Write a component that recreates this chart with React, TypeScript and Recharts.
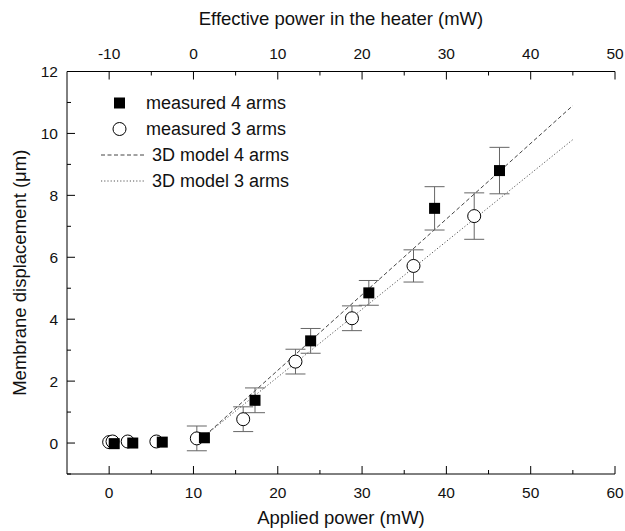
import React from 'react'
import { ComposedChart, Scatter, Line, XAxis, YAxis, ErrorBar } from 'recharts'

const FONT = '"Liberation Sans", Arial, Helvetica, sans-serif'

// measured, 4 arms
const power4 = [0.6, 2.8, 6.3, 11.3, 17.3, 23.9, 30.8, 38.6, 46.3]
const disp4 = [-0.02, 0.0, 0.03, 0.17, 1.38, 3.3, 4.85, 7.58, 8.8]
const err4 = [0, 0, 0, 0, 0.4, 0.4, 0.4, 0.7, 0.75]

// measured, 3 arms
const power3 = [0.0, 0.4, 2.2, 5.6, 10.4, 15.9, 22.1, 28.8, 36.1, 43.3]
const disp3 = [0.03, 0.05, 0.05, 0.05, 0.15, 0.77, 2.63, 4.03, 5.72, 7.33]
const err3 = [0, 0, 0, 0, 0.4, 0.4, 0.4, 0.4, 0.52, 0.75]

// 3D model (end points)
const model4Power = [10.8, 55]
const model4Disp = [0.1, 10.9]
const model3Power = [10.5, 55]
const model3Disp = [0.05, 9.8]

// heater power = applied power - 10 mW
const HEATER_OFFSET = 10

const bottomTicks = [0, 5, 10, 15, 20, 25, 30, 35, 40, 45, 50, 55, 60]
const topTicks = [-10, -5, 0, 5, 10, 15, 20, 25, 30, 35, 40, 45, 50]
const yTicks = [-1, 0, 1, 2, 3, 4, 5, 6, 7, 8, 9, 10, 11, 12]

const measured4 = power4.map((x, i) => ({ x, y: disp4[i], err: err4[i] }))
const measured3 = power3.map((x, i) => ({ x, y: disp3[i], err: err3[i] }))
const model4 = model4Power.map((x, i) => ({ x, y: model4Disp[i] }))
const model3 = model3Power.map((x, i) => ({ x, y: model3Disp[i] }))

type Side = 'bottom' | 'top' | 'left' | 'right'

function AxisTick(props: any) {
  const { x, y, payload, side } = props
  const v = payload.value as number
  const major = side === 'left' || side === 'right' ? v % 2 === 0 : v % 10 === 0
  const len = major ? 8 : 4
  let line = null
  let label = null
  const textStyle = { fontFamily: FONT, fontSize: 15.5, fill: '#111' }
  if (side === 'bottom') {
    line = <line x1={x} y1={y} x2={x} y2={y - len} stroke="#000" />
    if (major) label = <text x={x} y={y + 24} textAnchor="middle" style={textStyle}>{v}</text>
  } else if (side === 'top') {
    line = <line x1={x} y1={y} x2={x} y2={y + len} stroke="#000" />
    if (major) label = <text x={x} y={y - 13} textAnchor="middle" style={textStyle}>{v}</text>
  } else if (side === 'left') {
    line = <line x1={x} y1={y} x2={x + len} y2={y} stroke="#000" />
    if (major && v >= 0) label = <text x={x - 9} y={y + 5.5} textAnchor="end" style={textStyle}>{v}</text>
  } else {
    line = <line x1={x} y1={y} x2={x - len} y2={y} stroke="#000" />
  }
  return (
    <g>
      {line}
      {label}
    </g>
  )
}

const tickFor = (side: Side) => (p: any) => <AxisTick {...p} side={side} />

function SquareDot(props: any) {
  const { cx, cy } = props
  if (cx == null || cy == null) return null
  return <rect x={cx - 5.5} y={cy - 5.5} width={11} height={11} fill="#000" />
}

function CircleDot(props: any) {
  const { cx, cy } = props
  if (cx == null || cy == null) return null
  return <circle cx={cx} cy={cy} r={6.5} fill="#fff" stroke="#000" strokeWidth={1} />
}

const titleStyle = { fontFamily: FONT, fontSize: 18.5, fill: '#111' }

function LegendBox() {
  const rowStyle: React.CSSProperties = {
    display: 'flex',
    alignItems: 'center',
    height: 26,
  }
  const text: React.CSSProperties = { fontFamily: FONT, fontSize: 18, color: '#111' }
  return (
    <div style={{ position: 'absolute', left: 100, top: 90 }}>
      <div style={rowStyle}>
        <svg width={46} height={14}><rect x={14} y={1.5} width={11} height={11} fill="#000" /></svg>
        <span style={text}>measured 4 arms</span>
      </div>
      <div style={rowStyle}>
        <svg width={46} height={16}><circle cx={19.5} cy={8} r={6.5} fill="#fff" stroke="#000" /></svg>
        <span style={text}>measured 3 arms</span>
      </div>
      <div style={rowStyle}>
        <svg width={52} height={4}><line x1={1} y1={2} x2={45} y2={2} stroke="#444" strokeDasharray="4 2.5" /></svg>
        <span style={text}>3D model 4 arms</span>
      </div>
      <div style={rowStyle}>
        <svg width={52} height={4}><line x1={1} y1={2} x2={45} y2={2} stroke="#555" strokeDasharray="1.2 2" /></svg>
        <span style={text}>3D model 3 arms</span>
      </div>
    </div>
  )
}

export default function App() {
  return (
    <div style={{ position: 'absolute', left: 0, top: 0, width: 625, height: 531, background: '#fff' }}>
      <ComposedChart
        width={625}
        height={531}
        margin={{ top: 41.5, right: 10, bottom: 27, left: 27 }}
      >
        <XAxis
          xAxisId="bottom"
          dataKey="x"
          type="number"
          orientation="bottom"
          domain={[-5, 60]}
          ticks={bottomTicks}
          interval={0}
          height={30}
          tickSize={0}
          tickMargin={0}
          tickLine={false}
          axisLine={{ stroke: '#000' }}
          tick={tickFor('bottom')}
          label={(p: any) => {
            const vb = p.viewBox
            return (
              <text x={vb.x + vb.width / 2} y={vb.y + vb.height + 20} textAnchor="middle" style={titleStyle}>
                Applied power (mW)
              </text>
            )
          }}
        />
        <XAxis
          xAxisId="top"
          dataKey={(d: any) => d.x - HEATER_OFFSET}
          type="number"
          orientation="top"
          domain={[-15, 50]}
          ticks={topTicks}
          interval={0}
          height={30}
          tickSize={0}
          tickMargin={0}
          tickLine={false}
          axisLine={{ stroke: '#000' }}
          tick={tickFor('top')}
          label={(p: any) => {
            const vb = p.viewBox
            return (
              <text x={vb.x + vb.width / 2} y={vb.y - 17} textAnchor="middle" style={titleStyle}>
                Effective power in the heater (mW)
              </text>
            )
          }}
        />
        <YAxis
          yAxisId="left"
          dataKey="y"
          type="number"
          domain={[-1, 12]}
          ticks={yTicks}
          interval={0}
          width={40}
          tickSize={0}
          tickMargin={0}
          tickLine={false}
          axisLine={{ stroke: '#000' }}
          tick={tickFor('left')}
          label={(p: any) => {
            const vb = p.viewBox
            const cx = vb.x - 1
            const cy = vb.y + vb.height / 2
            return (
              <text x={cx} y={cy} textAnchor="middle" transform={`rotate(-90 ${cx} ${cy})`} style={titleStyle}>
                Membrane displacement (μm)
              </text>
            )
          }}
        />
        <YAxis
          yAxisId="right"
          dataKey="y"
          orientation="right"
          type="number"
          domain={[-1, 12]}
          ticks={yTicks}
          interval={0}
          width={0}
          tickSize={0}
          tickMargin={0}
          tickLine={false}
          axisLine={{ stroke: '#000' }}
          tick={tickFor('right')}
        />
        <Line
          data={model4}
          xAxisId="top"
          yAxisId="right"
          dataKey="y"
          type="linear"
          stroke="#444"
          strokeWidth={1}
          strokeDasharray="4 2.5"
          dot={false}
          activeDot={false}
          isAnimationActive={false}
        />
        <Line
          data={model3}
          xAxisId="bottom"
          yAxisId="left"
          dataKey="y"
          type="linear"
          stroke="#555"
          strokeWidth={1}
          strokeDasharray="1.2 2"
          dot={false}
          activeDot={false}
          isAnimationActive={false}
        />
        <Scatter
          data={measured3}
          xAxisId="bottom"
          yAxisId="left"
          dataKey="y"
          shape={<CircleDot />}
          isAnimationActive={false}
        >
          <ErrorBar dataKey="err" direction="y" width={10} stroke="#666" strokeWidth={1} isAnimationActive={false} />
        </Scatter>
        <Scatter
          data={measured4}
          xAxisId="bottom"
          yAxisId="left"
          dataKey="y"
          shape={<SquareDot />}
          isAnimationActive={false}
        >
          <ErrorBar dataKey="err" direction="y" width={10} stroke="#666" strokeWidth={1} isAnimationActive={false} />
        </Scatter>
      </ComposedChart>
      <LegendBox />
    </div>
  )
}
